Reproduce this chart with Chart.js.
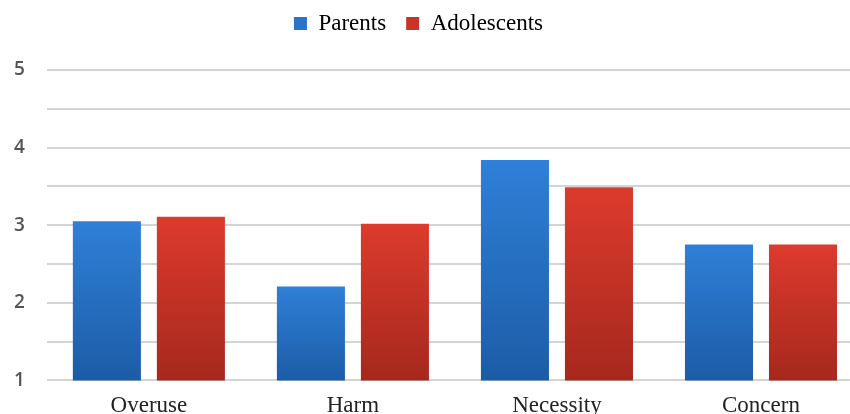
<!DOCTYPE html>
<html>
<head>
<meta charset="utf-8">
<script src="https://cdn.jsdelivr.net/npm/chart.js@4.4.1/dist/chart.umd.min.js"></script>
<style>
  html, body { margin: 0; padding: 0; background: #fff; overflow: hidden; }
  #wrap { width: 866px; height: 424px; }
</style>
</head>
<body>
<div id="wrap"><canvas id="mycanvas" width="866" height="424"></canvas></div>
<script>
var categories = ["Overuse", "Harm", "Necessity", "Concern"];
var parents = [3.05, 2.21, 3.84, 2.75];
var adolescents = [3.11, 3.02, 3.49, 2.75];

function barGradient(top, bottom) {
  return function (context) {
    var chart = context.chart;
    var area = chart.chartArea;
    if (!area || context.parsed === undefined) return top;
    var y = chart.scales.y;
    var y0 = y.getPixelForValue(context.parsed.y);
    var y1 = y.getPixelForValue(y.min);
    if (!isFinite(y0) || !isFinite(y1) || y0 === y1) return top;
    var g = chart.ctx.createLinearGradient(0, y0, 0, y1);
    g.addColorStop(0, top);
    g.addColorStop(1, bottom);
    return g;
  };
}

// legend: fixed height so the plot starts lower, and nudged left a bit
var legendSpace = {
  id: 'legendSpace',
  beforeInit: function (chart) {
    var fit = chart.legend.fit;
    chart.legend.fit = function () {
      fit.bind(chart.legend)();
      this.height = 78;
    };
  },
  afterLayout: function (chart) {
    chart.legend.right -= 18;
  }
};

var ctx = document.getElementById("mycanvas").getContext("2d");
var newChart = new Chart(ctx, {
  type: 'bar',
  data: {
    labels: categories,
    datasets: [
      {
        label: "Parents",
        data: parents,
        backgroundColor: barGradient("#2f80d8", "#1c5ca6"),
        borderWidth: 0,
        barPercentage: 0.81,
        categoryPercentage: 0.8235
      },
      {
        label: "Adolescents",
        data: adolescents,
        backgroundColor: barGradient("#dc3b2d", "#a6281d"),
        borderWidth: 0,
        barPercentage: 0.81,
        categoryPercentage: 0.8235
      }
    ]
  },
  options: {
    responsive: false,
    animation: false,
    layout: { padding: { left: -8, right: 3, top: -8, bottom: 0 } },
    plugins: {
      tooltip: { enabled: false },
      legend: {
        position: 'top',
        labels: {
          boxWidth: 13,
          boxHeight: 13,
          padding: 20,
          color: '#222',
          font: { family: 'Liberation Serif', size: 23 },
          generateLabels: function (chart) {
            var cols = ["#2a74c8", "#c8342a"];
            return chart.data.datasets.map(function (ds, i) {
              return { text: ds.label, fillStyle: cols[i], strokeStyle: cols[i], lineWidth: 0, datasetIndex: i };
            });
          }
        }
      }
    },
    scales: {
      x: {
        grid: { display: false },
        border: { display: false },
        ticks: { color: '#222', font: { family: 'Liberation Serif', size: 23 }, padding: 4 }
      },
      y: {
        min: 1,
        max: 5,
        border: { display: false },
        grid: { color: '#d4d4d4', lineWidth: 2, drawTicks: false },
        ticks: {
          stepSize: 0.5,
          padding: 22,
          color: '#555',
          font: { family: 'Open Sans', size: 19, weight: '600' },
          callback: function (v) { return Number.isInteger(v) ? v : ''; }
        }
      }
    }
  },
  plugins: [legendSpace]
});
</script>
</body>
</html>
